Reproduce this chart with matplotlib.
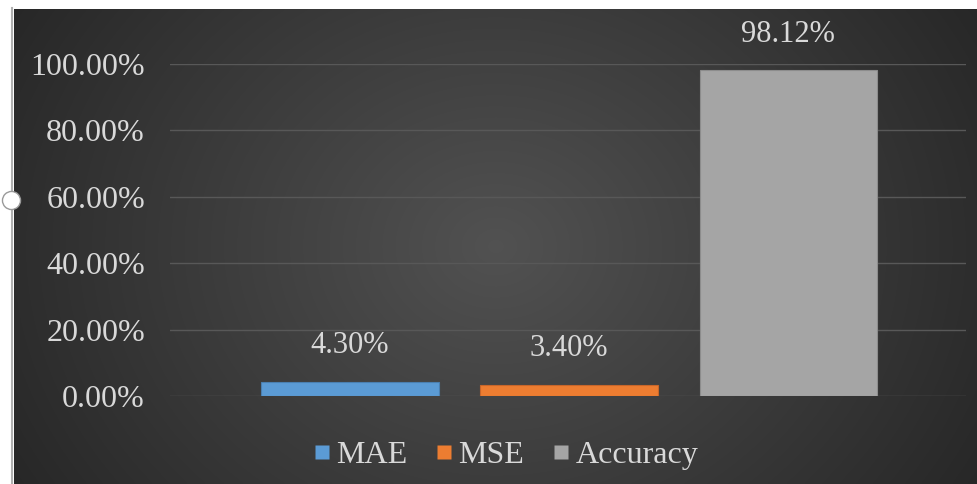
import numpy as np
import matplotlib.pyplot as plt
from matplotlib.lines import Line2D

# data
series = ['MAE', 'MSE', 'Accuracy']
values = [4.30, 3.40, 98.12]
colors = ['#5B9BD5', '#ED7D31', '#A5A5A5']
yticks = [0, 20, 40, 60, 80, 100]

plt.rcParams['font.family'] = ['Liberation Serif', 'DejaVu Serif']
txt = '#D9D9D9'

fig = plt.figure(figsize=(9.78, 4.84), dpi=100)
fig.patch.set_facecolor('white')

# dark gradient background of the chart area
bg = fig.add_axes([14/978, 0, 1 - 14/978, 1 - 9/484])
gx, gy = np.meshgrid(np.linspace(-1, 1, 400), np.linspace(-1, 1, 200))
r = np.sqrt((gx / 1.05)**2 + (gy / 1.8)**2)
shade = 0.32 - 0.15 * np.clip(r, 0, 1.2)
bg.imshow(np.dstack([shade]*3), aspect='auto', extent=[0, 1, 0, 1], interpolation='bilinear')
bg.set_axis_off()

# thin frame line on the left and the selection handle
fig.add_artist(Line2D([12/978, 12/978], [0, 1 - 8/484], color='#b0b0b0', lw=1.5))
fig.add_artist(Line2D([11/978], [1 - 200/484], marker='o', markersize=13,
                      markerfacecolor='white', markeredgecolor='#9a9a9a', zorder=5))

ax = fig.add_axes([170/978, 1 - 396/484, (966 - 170)/978, (396 - 64)/484])
ax.set_facecolor('none')
x = np.arange(len(series))
ax.bar(x, values, width=0.81, color=colors, edgecolor=['#4a7fb0', '#c8662a', '#8c8c8c'],
       linewidth=0.8, zorder=3)
for xi, v in zip(x, values):
    ax.text(xi, v + 6.5, f'{v:.2f}%', ha='center', va='bottom', color=txt,
            fontsize=22, clip_on=False)

ax.set_xlim(-0.82, 2.81)
ax.set_ylim(0, 100)
ax.set_yticks(yticks)
ax.set_yticklabels([f'{t:.2f}%' for t in yticks], color=txt, fontsize=23)
ax.tick_params(axis='y', length=0, pad=18)
ax.set_xticks([])
ax.grid(axis='y', color='#585858', lw=1, zorder=0)
for s in ax.spines.values():
    s.set_visible(False)

handles = [Line2D([], [], marker='s', linestyle='none', markersize=10, color=c,
                  markeredgecolor='none', label=s) for s, c in zip(series, colors)]
leg = fig.legend(handles=handles, loc='center', bbox_to_anchor=(506/978, 1 - 455/484),
                 ncol=3, frameon=False, fontsize=23, handlelength=0.5,
                 handletextpad=0.2, columnspacing=0.9)
for t in leg.get_texts():
    t.set_color(txt)

fig.savefig('out.png', dpi=100)
